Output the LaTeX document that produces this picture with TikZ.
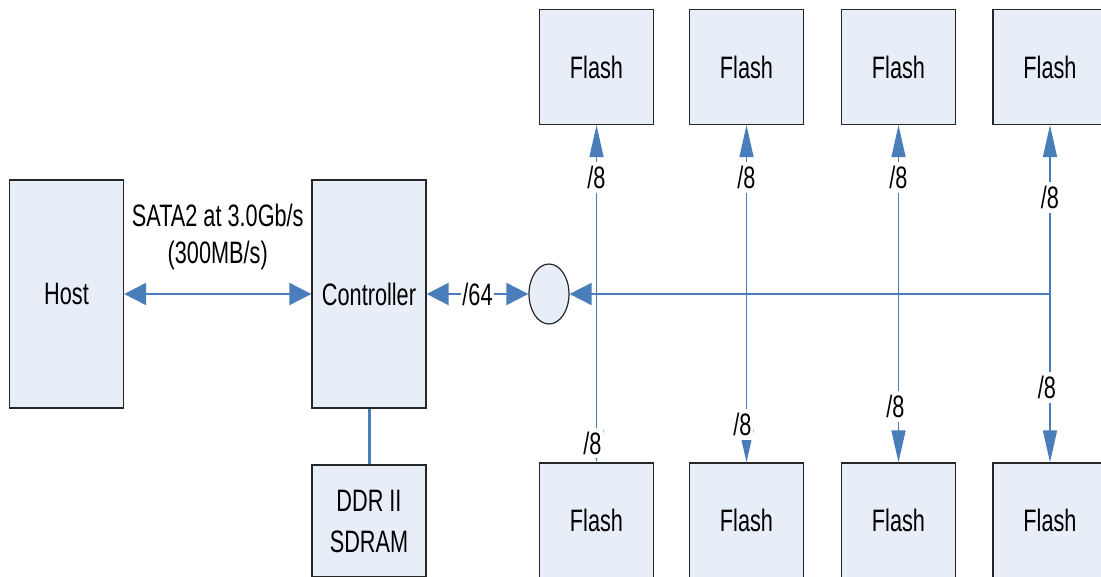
\documentclass[tikz,border=0pt]{standalone}
\usepackage{fontspec}
\setmainfont{Liberation Sans}[FakeStretch=0.70]
\usetikzlibrary{arrows.meta,shapes.geometric}
\definecolor{linkblue}{HTML}{4A7EBB}
\definecolor{boxfill}{HTML}{E8EEF8}
\definecolor{boxline}{HTML}{262626}
\begin{document}
\begin{tikzpicture}[x=1pt,y=-1pt,
  every node/.style={font=\fontsize{31}{37}\selectfont},
  unitbox/.style={draw=boxline,line width=1.2pt,fill=boxfill,inner sep=0pt},
  tallbox/.style={unitbox,minimum width=114pt,minimum height=228pt},
  flashbox/.style={unitbox,minimum width=114pt,minimum height=115pt},
  harrow/.style={draw=linkblue,line width=1.8pt,{Triangle[length=22pt,width=22pt]}-{Triangle[length=22pt,width=22pt]}},
  varrow/.style={draw=linkblue,line width=1.4pt,-{Triangle[length=32pt,width=14pt]}},
  buslbl/.style={fill=white,inner xsep=1pt,inner ysep=4pt}]
\useasboundingbox (0,0) rectangle (1101,577);
\clip (0,0) rectangle (1101,577);
% host, controller and memory
\node [tallbox] (host) at (66.5,294) {Host};
\node [tallbox] (ctrl) at (369,294) {Controller};
\node [unitbox,minimum width=114pt,minimum height=112pt,align=center] (ddr) at (369,521) {DDR II\\[4pt]SDRAM};
\node [unitbox,ellipse,minimum width=40pt,minimum height=60pt] (hub) at (549,294) {};
% flash chips
\node [flashbox] (ft1) at (596.5,67) {Flash};
\node [flashbox] (ft2) at (746.5,67) {Flash};
\node [flashbox] (ft3) at (898.5,67) {Flash};
\node [flashbox] (ft4) at (1050,67) {Flash};
\node [flashbox] (fb1) at (596.5,520.5) {Flash};
\node [flashbox] (fb2) at (746.5,520.5) {Flash};
\node [flashbox] (fb3) at (898.5,520.5) {Flash};
\node [flashbox] (fb4) at (1050,520.5) {Flash};
% bus taps
\coordinate (c1) at (596.5,294);
\coordinate (c2) at (746.5,294);
\coordinate (c3) at (898.5,294);
\coordinate (c4) at (1050,294);
% links
\draw [harrow] (host.east) -- (ctrl.west) node [midway,yshift=57pt,align=center] (satalbl) {SATA2 at 3.0Gb/s\\(300MB/s)};
\draw [harrow] (ctrl.east) -- (hub.west) node [midway,buslbl] (widelbl) {/64};
\draw [draw=linkblue,line width=1.8pt,-{Triangle[length=22pt,width=22pt]}] (c4) -- (hub.east);
\draw [draw=linkblue,line width=3pt] (ctrl.south) -- (ddr.north);
\draw [varrow] (c1) -- (ft1.south) node [pos=0.69,buslbl] (t1lbl) {/8};
\draw [varrow] (c2) -- (ft2.south) node [pos=0.69,buslbl] (t2lbl) {/8};
\draw [varrow] (c3) -- (ft3.south) node [pos=0.69,buslbl] (t3lbl) {/8};
\draw [varrow] (c4) -- (ft4.south) node [pos=0.57,buslbl] (t4lbl) {/8};
\draw [varrow] (c1) -- (fb1.north) node [pos=0.885,buslbl,xshift=-4pt] (b1lbl) {/8};
\draw [varrow] (c2) -- (fb2.north) node [pos=0.775,buslbl,xshift=-4pt] (b2lbl) {/8};
\draw [varrow] (c3) -- (fb3.north) node [pos=0.67,buslbl,xshift=-3pt] (b3lbl) {/8};
\draw [varrow] (c4) -- (fb4.north) node [pos=0.556,buslbl,xshift=-3pt] (b4lbl) {/8};
\end{tikzpicture}
\end{document}
